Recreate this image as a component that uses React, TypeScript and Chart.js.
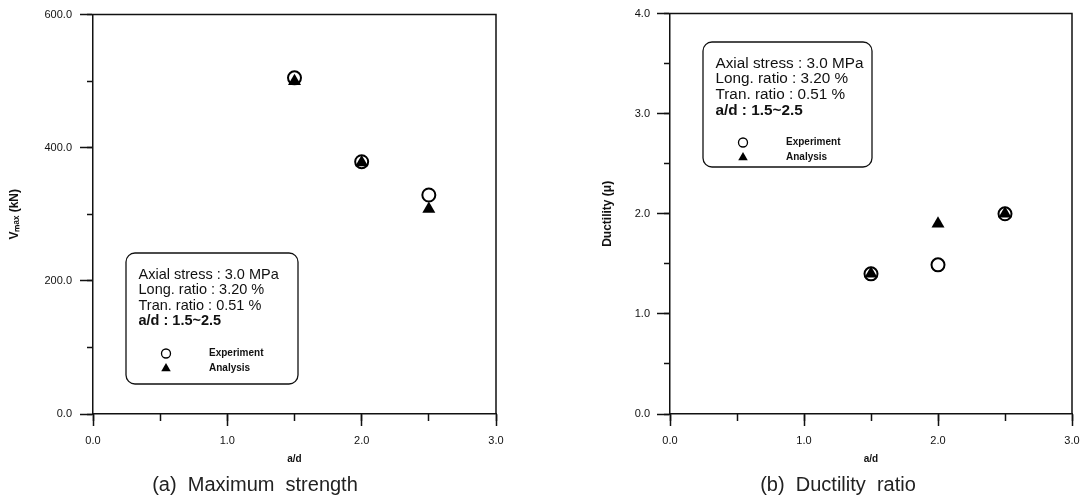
import React, { useEffect, useRef } from "react";
import { Chart, registerables } from "chart.js";
import { drawPoint } from "chart.js/helpers";

Chart.register(...registerables);

// ---- data ----
const aOverD = [1.5, 2.0, 2.5];
const vmaxExperiment = [505, 379, 329];
const vmaxAnalysis = [500, 378, 308];
const ductilityExperiment = [1.4, 1.49, 2.0];
const ductilityAnalysis = [1.4, 1.9, 2.0];
const seriesNames = ["Experiment", "Analysis"];
const infoLines = [
  "Axial stress : 3.0 MPa",
  "Long. ratio : 3.20 %",
  "Tran. ratio : 0.51 %",
  "a/d : 1.5~2.5",
];
const xTitle = "a/d";
const captions = ["(a)  Maximum  strength", "(b)  Ductility  ratio"];
const yTitles = ["V\u2098\u2090\u2093 (kN)", "Ductility (\u03bc)"];

const ink = "#111";
const FONT = '"Liberation Sans", Arial, Helvetica, sans-serif';

type Box = { x: number; y: number; w: number; h: number };

const framePlugin = {
  id: "frame",
  beforeDatasetsDraw(chart: any) {
    const { ctx, chartArea: a } = chart;
    ctx.save();
    ctx.strokeStyle = ink;
    ctx.lineWidth = 1.5;
    ctx.beginPath();
    ctx.moveTo(a.left, a.top);
    ctx.lineTo(a.right, a.top);
    ctx.lineTo(a.right, a.bottom);
    ctx.stroke();
    ctx.restore();
  },
};

function makeInfoBox(box: Box, fontSize: number, baselines: number[]) {
  return {
    id: "infoBox",
    afterDatasetsDraw(chart: any) {
      const ctx = chart.ctx as CanvasRenderingContext2D;
      ctx.save();
      ctx.strokeStyle = ink;
      ctx.lineWidth = 1.3;
      ctx.fillStyle = "#fff";
      ctx.beginPath();
      (ctx as any).roundRect(box.x, box.y, box.w, box.h, 9);
      ctx.fill();
      ctx.stroke();

      ctx.fillStyle = ink;
      ctx.textAlign = "left";
      ctx.textBaseline = "alphabetic";
      infoLines.forEach((t, i) => {
        const bold = i === infoLines.length - 1;
        ctx.font = `${bold ? "bold " : ""}${fontSize}px ${FONT}`;
        ctx.fillText(t, box.x + 12.5, box.y + baselines[i]);
      });

      const rows = [100.5, 115.5];
      const mx = box.x + 40;
      ctx.fillStyle = "#fff";
      ctx.strokeStyle = "#000";
      drawPoint(ctx, { pointStyle: "circle", radius: 4.5, rotation: 0, borderWidth: 1.6 } as any, mx, box.y + rows[0]);
      ctx.fillStyle = "#000";
      drawPoint(ctx, { pointStyle: "triangle", radius: 5.5, rotation: 0, borderWidth: 0 } as any, mx, box.y + rows[1]);

      ctx.fillStyle = ink;
      ctx.font = `bold 10px ${FONT}`;
      ctx.textBaseline = "middle";
      seriesNames.forEach((n, i) => {
        ctx.fillText(n, box.x + 83, box.y + rows[i]);
      });
      ctx.restore();
    },
  };
}

type PanelSpec = {
  canvasLeft: number;
  canvasWidth: number;
  padTop: number;
  padLeft: number;
  padRight: number;
  yWidth: number;
  yTitle: string;
  yTitlePad: number;
  yMax: number;
  yStep: number;
  yMinorStep: number;
  yTickPad: number;
  experiment: number[];
  analysis: number[];
  caption: string;
  box: Box;
  boxFont: number;
  baselines: number[];
};

const panels: PanelSpec[] = [
  {
    canvasLeft: 0,
    canvasWidth: 513,
    padTop: 11,
    padLeft: 14,
    padRight: 17,
    yWidth: 79,
    yTitle: yTitles[0],
    yTitlePad: -6.2,
    yMax: 600,
    yStep: 200,
    yMinorStep: 100,
    yTickPad: 8,
    experiment: vmaxExperiment,
    analysis: vmaxAnalysis,
    caption: captions[0],
    box: { x: 126, y: 253, w: 172, h: 131 },
    boxFont: 14.5,
    baselines: [26, 41.3, 56.6, 72],
  },
  {
    canvasLeft: 587,
    canvasWidth: 502,
    padTop: 13,
    padLeft: 17,
    padRight: 17,
    yWidth: 66,
    yTitle: yTitles[1],
    yTitlePad: -3.2,
    yMax: 4,
    yStep: 1,
    yMinorStep: 0.5,
    yTickPad: 7,
    experiment: ductilityExperiment,
    analysis: ductilityAnalysis,
    caption: captions[1],
    box: { x: 116, y: 42, w: 169, h: 125 },
    boxFont: 15.3,
    baselines: [25.5, 41.3, 57, 73],
  },
];

const H = 499;

function Panel({ spec }: { spec: PanelSpec }) {
  const ref = useRef<HTMLCanvasElement | null>(null);
  useEffect(() => {
    if (!ref.current) return;
    const fmt = (v: any) => Number(v).toFixed(1);
    const chart = new Chart(ref.current, {
      type: "scatter",
      data: {
        datasets: [
          {
            label: seriesNames[0],
            data: aOverD.map((x, i) => ({ x, y: spec.experiment[i] })),
            pointStyle: "circle",
            pointRadius: 6.5,
            pointHoverRadius: 6.5,
            pointBorderWidth: 2,
            borderColor: "#000",
            backgroundColor: "#fff",
            order: 1,
          },
          {
            label: seriesNames[1],
            data: aOverD.map((x, i) => ({ x, y: spec.analysis[i] })),
            pointStyle: "triangle",
            pointRadius: 7.5,
            pointHoverRadius: 7.5,
            pointBorderWidth: 0,
            borderColor: "#000",
            backgroundColor: "#000",
            order: 0,
          },
        ],
      },
      options: {
        animation: false,
        responsive: false,
        devicePixelRatio: 1,
        events: [],
        layout: { padding: { top: spec.padTop, right: spec.padRight, left: spec.padLeft, bottom: 0 } },
        plugins: {
          legend: { display: false },
          tooltip: { enabled: false },
          title: {
            display: true,
            position: "bottom",
            text: spec.caption,
            color: "#222",
            font: { family: FONT, size: 20, weight: "normal" },
            padding: { top: 0, bottom: 2 },
          },
        },
        scales: {
          x: {
            type: "linear",
            position: "bottom",
            weight: 1,
            min: 0,
            max: 3,
            ticks: {
              stepSize: 1,
              callback: fmt,
              color: ink,
              font: { family: FONT, size: 11 },
              padding: 8.4,
              maxRotation: 0,
              autoSkip: false,
            },
            grid: { drawOnChartArea: false, drawTicks: true, tickLength: 12, tickWidth: 1.5, tickColor: ink },
            border: { display: true, color: ink, width: 1.5 },
            title: {
              display: true,
              text: xTitle,
              color: ink,
              font: { family: FONT, size: 10, weight: "bold" },
              padding: { top: 0, bottom: 8 },
            },
            afterFit: (s: any) => {
              s.height = 59;
            },
          },
          xMinor: {
            type: "linear",
            position: "bottom",
            weight: 0,
            min: 0,
            max: 3,
            ticks: { stepSize: 0.5, display: false },
            grid: { drawOnChartArea: false, drawTicks: true, tickLength: 7, tickWidth: 1.5, tickColor: ink },
            border: { display: false },
            afterFit: (s: any) => {
              s.height = 0;
            },
          },
          y: {
            type: "linear",
            position: "left",
            weight: 1,
            min: 0,
            max: spec.yMax,
            ticks: {
              stepSize: spec.yStep,
              callback: fmt,
              color: ink,
              font: { family: FONT, size: 11 },
              padding: spec.yTickPad,
            },
            grid: { drawOnChartArea: false, drawTicks: true, tickLength: 13, tickWidth: 1.5, tickColor: ink },
            border: { display: true, color: ink, width: 1.5 },
            title: {
              display: true,
              text: spec.yTitle,
              color: ink,
              font: { family: FONT, size: 12, weight: "bold" },
              padding: { top: spec.yTitlePad, bottom: 0 },
            },
            afterFit: (s: any) => {
              s.width = spec.yWidth;
            },
          },
          yMinor: {
            type: "linear",
            position: "left",
            weight: 0,
            min: 0,
            max: spec.yMax,
            ticks: { stepSize: spec.yMinorStep, display: false },
            grid: { drawOnChartArea: false, drawTicks: true, tickLength: 6, tickWidth: 1.5, tickColor: ink },
            border: { display: false },
            afterFit: (s: any) => {
              s.width = 0;
            },
          },
        },
      } as any,
      plugins: [framePlugin, makeInfoBox(spec.box, spec.boxFont, spec.baselines)],
    });
    return () => chart.destroy();
  }, [spec]);

  return (
    <canvas
      ref={ref}
      width={spec.canvasWidth}
      height={H}
      style={{
        position: "absolute",
        left: spec.canvasLeft,
        top: 0,
        width: spec.canvasWidth,
        height: H,
      }}
    />
  );
}

export default function App() {
  return (
    <div
      style={{
        position: "fixed",
        left: 0,
        top: 0,
        width: 1089,
        height: H,
        background: "#fff",
        overflow: "hidden",
      }}
    >
      {panels.map((p, i) => (
        <Panel key={i} spec={p} />
      ))}
    </div>
  );
}
